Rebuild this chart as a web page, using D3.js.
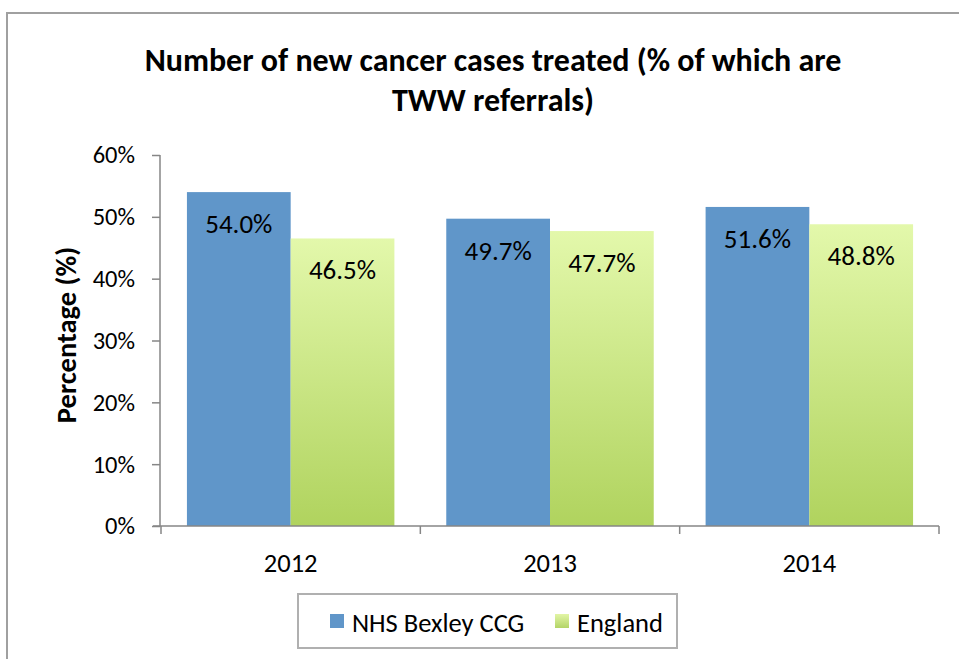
<!DOCTYPE html>
<html><head><meta charset="utf-8">
<script src="https://d3js.org/d3.v7.min.js"></script>
<style>body{margin:0;background:#fff}text{font-family:Carlito,Lato,"Open Sans",sans-serif}</style>
</head><body>
<svg id="c" width="959" height="659"></svg>
<script>
const categories = ["2012", "2013", "2014"];
const seriesNames = ["NHS Bexley CCG", "England"];
const bexley = [54.0, 49.7, 51.6];
const england = [46.5, 47.7, 48.8];
const yTicks = [0, 10, 20, 30, 40, 50, 60];

const svg = d3.select("#c");
const defs = svg.append("defs");
const g1 = defs.append("linearGradient").attr("id","gGreen").attr("x1",0).attr("y1",0).attr("x2",0).attr("y2",1);
g1.append("stop").attr("offset","0%").attr("stop-color","#e3f8ab");
g1.append("stop").attr("offset","100%").attr("stop-color","#b0d35e");
const g2 = defs.append("linearGradient").attr("id","gGreenL").attr("x1",0).attr("y1",0).attr("x2",0).attr("y2",1);
g2.append("stop").attr("offset","0%").attr("stop-color","#e2f5a6");
g2.append("stop").attr("offset","100%").attr("stop-color","#b3d467");

// outer frame
svg.append("path").attr("d","M7,659 L7,13 L959,13").attr("fill","none").attr("stroke","#a0a0a0").attr("stroke-width",2);

const x0 = d3.scaleBand().domain(categories).range([161, 939]).paddingInner(0).paddingOuter(0);
const y = d3.scaleLinear().domain([0, 60]).range([526, 155]);
const bw = x0.bandwidth();
const pad = bw * 0.1;
const x1 = d3.scaleBand().domain(seriesNames).range([pad, bw - pad]);

// title
const title = svg.append("text").attr("text-anchor","middle").attr("font-weight","bold").attr("font-size",32).attr("fill","#000");
title.append("tspan").attr("x",493).attr("y",71).text("Number of new cancer cases treated (% of which are");
title.append("tspan").attr("x",493).attr("y",111).text("TWW referrals)");

// y axis
const yAxis = svg.append("g").attr("transform","translate(160,0)")
  .call(d3.axisLeft(y).tickValues(yTicks).tickFormat(d => d + "%").tickSize(8).tickPadding(17));
yAxis.select(".domain").attr("stroke","#868686").attr("stroke-width",1.5).attr("d","M0,155V526");
yAxis.selectAll(".tick line").attr("stroke","#868686").attr("stroke-width",1.5);
yAxis.selectAll(".tick text").attr("font-size",24.5).attr("fill","#000").style("font-family","Carlito,Lato,sans-serif");

svg.append("text").attr("transform","translate(76,335) rotate(-90)").attr("text-anchor","middle")
  .attr("font-weight","bold").attr("font-size",28.5).attr("fill","#000").text("Percentage (%)");

// bars
const data = categories.map((c,i) => ({cat:c, vals:[{s:seriesNames[0], v:bexley[i]},{s:seriesNames[1], v:england[i]}]}));
const grp = svg.selectAll(".grp").data(data).join("g").attr("transform", d => `translate(${x0(d.cat)},0)`);
grp.selectAll("rect").data(d => d.vals).join("rect")
  .attr("x", d => x1(d.s)).attr("width", x1.bandwidth())
  .attr("y", d => y(d.v)).attr("height", d => y(0) - y(d.v))
  .attr("fill", d => d.s === seriesNames[0] ? "#6096c9" : "url(#gGreen)");
grp.selectAll("text.lbl").data(d => d.vals).join("text").attr("class","lbl")
  .attr("x", d => x1(d.s) + x1.bandwidth()/2).attr("y", d => y(d.v) + 41)
  .attr("text-anchor","middle").attr("font-size",27).attr("fill","#000")
  .text(d => d.v.toFixed(1) + "%");

// x axis
const xAxis = svg.append("g").attr("transform","translate(0,526)")
  .call(d3.axisBottom(x0).tickSize(0).tickPadding(27));
xAxis.select(".domain").attr("stroke","#868686").attr("stroke-width",1.5).attr("d","M153,0H939");
xAxis.selectAll(".tick text").attr("font-size",26.5).attr("fill","#000").style("font-family","Carlito,Lato,sans-serif");
const bounds = categories.map(c => x0(c)).concat([x0(categories[categories.length-1]) + bw]);
xAxis.selectAll(".sep").data(bounds).join("line").attr("class","sep")
  .attr("x1", d => d).attr("x2", d => d).attr("y1", 0).attr("y2", 8)
  .attr("stroke","#868686").attr("stroke-width",1.5);

// legend
svg.append("rect").attr("x",298).attr("y",594).attr("width",379).attr("height",54)
  .attr("fill","#fff").attr("stroke","#b0b0b0").attr("stroke-width",2);
const legItems = [{name:seriesNames[0], x:330, fill:"#6096c9"},{name:seriesNames[1], x:555, fill:"url(#gGreenL)"}];
const lg = svg.selectAll(".lg").data(legItems).join("g").attr("class","lg");
lg.append("rect").attr("x", d => d.x).attr("y",614).attr("width",14).attr("height",14).attr("fill", d => d.fill);
lg.append("text").attr("x", d => d.x + 22).attr("y",632).attr("font-size",26.5).attr("fill","#000").text(d => d.name);
</script>
</body></html>
